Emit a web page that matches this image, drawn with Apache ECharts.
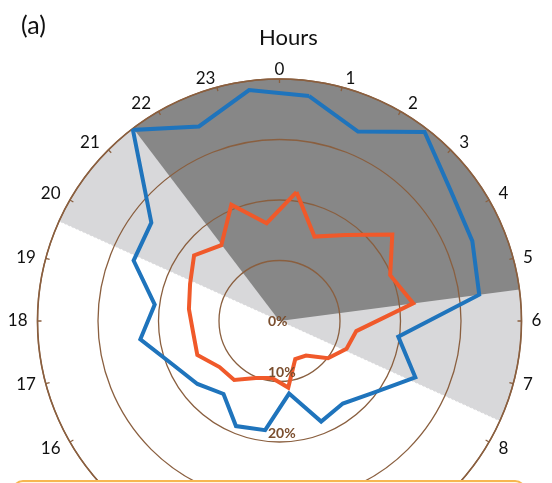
<!DOCTYPE html>
<html>
<head>
<meta charset="utf-8">
<script src="https://cdn.jsdelivr.net/npm/echarts@6/dist/echarts.min.js"></script>
<style>
  html, body { margin: 0; padding: 0; background: #ffffff; }
  #chart { width: 552px; height: 483px; }
</style>
</head>
<body>
<div id="chart"></div>
<script>
// Hour bins (vertex angles sit at the middle of each hour)
const hourBins = [0.5, 1.5, 2.5, 3.5, 4.5, 5.5, 6.5, 7.5, 8.5, 9.5, 10.5, 11.5,
                  12.5, 13.5, 14.5, 15.5, 16.5, 17.5, 18.5, 19.5, 20.5, 21.5, 22.5, 23.5];
// Blue series (%)
const blueShare = [37.5, 33.9, 39.4, 35.6, 34.5, 33.3, 19.8, 24.3, 19.5, 17.2, 18.0, 12.1,
                   18.2, 18.8, 15.2, 17.1, 19.0, 23.2, 20.8, 26.1, 26.7, 39.8, 34.8, 38.5];
// Orange series (%)
const orangeShare = [21.5, 15.1, 17.9, 23.5, 19.8, 22.3, 12.8, 12.0, 10.1, 7.2, 6.8, 11.1,
                     9.5, 10.2, 12.3, 12.5, 14.7, 14.4, 15.1, 16.0, 17.8, 15.8, 20.8, 16.3];
// Shaded periods (start hour, end hour; end past midnight written as +24)
const twilightPeriod = [19.62, 31.63];
const darkPeriod = [21.52, 29.5];
// Radial tick labels
const radialLabels = ['0%', '10%', '20%'];
const radialMax = 40;

const brown = '#8A5F3F';

function closedLoop(values) {
  const pts = hourBins.map((h, i) => [values[i], h]);
  pts.push([values[0], hourBins[0] + 24]);
  return pts;
}

function sectorItem(params, api) {
  const rMax = api.value(0), a0 = api.value(1), a1 = api.value(2);
  const pts = [api.coord([0, a0 % 24])];
  for (let a = a0; a < a1; a += 0.05) pts.push(api.coord([rMax, a % 24]));
  pts.push(api.coord([rMax, a1 % 24]));
  const isLight = params.dataIndex === 0;
  return {
    type: 'polygon',
    shape: { points: pts },
    style: {
      fill: api.visual('color'),
      stroke: isLight ? '#ffffff' : null,
      lineWidth: isLight ? 1 : 0,
      lineDash: isLight ? [2, 2] : null
    }
  };
}

const chart = echarts.init(document.getElementById('chart'), null, { renderer: 'canvas' });
chart.setOption({
  animation: false,
  backgroundColor: '#ffffff',
  textStyle: { fontFamily: 'Lato, "Open Sans", sans-serif' },
  title: [
    { text: 'Hours', left: 254, top: 22,
      textStyle: { fontSize: 22, fontWeight: 'normal', color: '#111', fontFamily: 'Lato' } },
    { text: '(a)', left: 16, top: 8,
      textStyle: { fontSize: 25, fontWeight: 'normal', color: '#111', fontFamily: 'Lato' } }
  ],
  polar: [
    { center: [279.5, 321], radius: 242 },
    { center: [279.5, 321], radius: 242 }
  ],
  angleAxis: [
    {
      polarIndex: 0, type: 'value', min: 0, max: 24, interval: 1,
      startAngle: 90, clockwise: true,
      axisLine: { show: true, lineStyle: { color: brown, width: 1.6 } },
      axisTick: { show: true, inside: true, length: 4, lineStyle: { color: brown, width: 1.3 } },
      axisLabel: { show: true, margin: 5, fontSize: 17, lineHeight: 8, padding: [0, 5, 0, 5],
        color: '#111', fontFamily: 'Lato',
        rich: {
          ccw: { fontSize: 17, lineHeight: 8, color: '#111', fontFamily: 'Lato', padding: [0, 20, 0, 0] },
          cw: { fontSize: 17, lineHeight: 8, color: '#111', fontFamily: 'Lato', padding: [0, 0, 0, 14] }
        },
        formatter: v => {
          if (v === 24) return '';
          if (v === 23) return '{ccw|' + v + '}';
          if (v === 1) return '{cw|' + v + '}';
          return String(v);
        } },
      splitLine: { show: false }
    },
    {
      polarIndex: 1, type: 'value', min: 0, max: 24, startAngle: 270,
      show: false
    }
  ],
  radiusAxis: [
    {
      polarIndex: 0, type: 'value', min: 0, max: radialMax, interval: 10,
      axisLine: { show: false }, axisTick: { show: false }, axisLabel: { show: false },
      splitLine: { show: true, lineStyle: { color: brown, width: 1.3 } }
    },
    {
      polarIndex: 1, type: 'value', min: 0, max: radialMax, interval: 10, z: 5,
      axisLine: { show: false }, axisTick: { show: false }, splitLine: { show: false },
      axisLabel: {
        show: true, margin: -11.5, align: 'left', verticalAlign: 'middle',
        fontSize: 14, fontWeight: 'bold', color: '#7A4E2E', lineHeight: 18, fontFamily: 'Lato',
        formatter: (v) => {
          const idx = Math.round(v / 10);
          if (idx >= radialLabels.length) return '';
          return idx === 0 ? radialLabels[idx] : radialLabels[idx] + '\n';
        }
      }
    }
  ],
  graphic: [
    { type: 'rect', z: 10, shape: { x: 13, y: 481, width: 512, height: 40, r: 10 },
      style: { fill: '#FFF6E6', stroke: '#F7B750', lineWidth: 2 } }
  ],
  series: [
    {
      type: 'custom', coordinateSystem: 'polar', polarIndex: 0, z: -1,
      renderItem: sectorItem, silent: true,
      data: [
        { value: [radialMax, twilightPeriod[0], twilightPeriod[1]], itemStyle: { color: '#D8D8DA' } },
        { value: [radialMax, darkPeriod[0], darkPeriod[1]], itemStyle: { color: '#878787' } }
      ]
    },
    {
      type: 'line', coordinateSystem: 'polar', polarIndex: 0, clip: false,
      symbol: 'none', data: closedLoop(blueShare),
      lineStyle: { color: '#1F74BC', width: 4, join: 'miter' }
    },
    {
      type: 'line', coordinateSystem: 'polar', polarIndex: 0, clip: false,
      symbol: 'none', data: closedLoop(orangeShare),
      lineStyle: { color: '#F0592A', width: 4, join: 'miter' }
    }
  ]
});
</script>
</body>
</html>
